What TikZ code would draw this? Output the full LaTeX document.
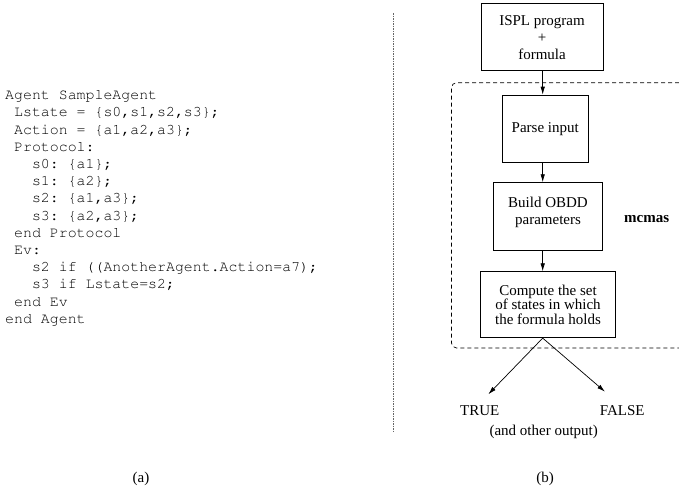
\documentclass[tikz,border=0pt]{standalone}
\usepackage{fontspec}
\setmainfont{Liberation Serif}
\setmonofont{Liberation Mono}
\usetikzlibrary{arrows.meta}
\newcommand{\courierface}{\fontencoding{T1}\fontfamily{pcr}\selectfont\frenchspacing}
\begin{document}
\begin{tikzpicture}[x=1pt,y=-1pt]
\tikzset{
  box/.style={draw, line width=0.8pt, inner sep=0pt, align=center,
              font=\fontsize{15}{17}\selectfont},
  flow/.style={-{Latex[length=8pt,width=4.5pt]}, line width=0.7pt},
  region/.style={dash pattern=on 4pt off 3pt, line width=0.7pt, rounded corners=5pt},
  divider/.style={dash pattern=on 1.5pt off 1pt, line width=0.9pt, black!60},
  lbl/.style={font=\fontsize{15}{17}\selectfont, inner sep=0pt, anchor=base},
  code/.style={font=\courierface\fontsize{14.9}{17.2}\selectfont, inner sep=0pt,
               align=left, anchor=north west},
}
\useasboundingbox (0,0) rectangle (679,496);

% (a) ISPL source of an agent
\node[code] (src) at (5,90) {Agent SampleAgent\\
~Lstate = \{s0,s1,s2,s3\};\\
~Action = \{a1,a2,a3\};\\
~Protocol:\\
~~~s0: \{a1\};\\
~~~s1: \{a2\};\\
~~~s2: \{a1,a3\};\\
~~~s3: \{a2,a3\};\\
~end Protocol\\
~Ev:\\
~~~s2 if ((AnotherAgent.Action=a7);\\
~~~s3 if Lstate=s2;\\
~end Ev\\
end Agent};

% separator between the two panels
\draw[divider] (393.3,13) -- (393.3,432);

% (b) tool pipeline
\node[box, minimum width=122pt, minimum height=67pt] (ispl) at (542,37.3)
  {ISPL program\\+\\formula};
\node[box, minimum width=85.5pt, minimum height=67.3pt] (parse) at (545.2,128.7)
  {Parse input};
\node[box, minimum width=109.4pt, minimum height=67.3pt] (build) at (548,216.3) {};
\node[lbl, anchor=center, align=center] (buildtxt) at ([yshift=4pt]build.center)
  {Build OBDD\\parameters};
\node[box, minimum width=134.3pt, minimum height=66pt,
      font=\fontsize{15}{14.6}\selectfont] (comp) at (548,304.7)
  {Compute the set\\of states in which\\the formula holds};

% the mcmas region
\begin{scope}
  \clip (0,0) rectangle (679,496);
  \draw[region] (700,82.7) -- (451.5,82.7) -- (451.5,348) -- (700,348);
\end{scope}
\node[lbl, font=\fontsize{15}{17}\selectfont\bfseries] (mcmas) at (646.7,222) {mcmas};

% connectors
\coordinate (ax) at (542.7,0);
\draw[flow] (ispl.south -| ax) -- (parse.north -| ax);
\draw[flow] (parse.south -| ax) -- (build.north -| ax);
\draw[flow] (build.south -| ax) -- (comp.north -| ax);
\coordinate (ttip) at (488.3,394.3);
\coordinate (ftip) at (605,391.7);
\draw[flow] (comp.south -| ax) -- (ttip);
\draw[flow] (comp.south -| ax) -- (ftip);

% outputs
\node[lbl] (true) at (479.7,415) {TRUE};
\node[lbl] (false) at (622.2,415) {FALSE};
\node[lbl] (other) at (543.7,435) {(and other output)};

% panel captions
\node[lbl] (capa) at (141,482) {(a)};
\node[lbl] (capb) at (545,482) {(b)};
\end{tikzpicture}
\end{document}
